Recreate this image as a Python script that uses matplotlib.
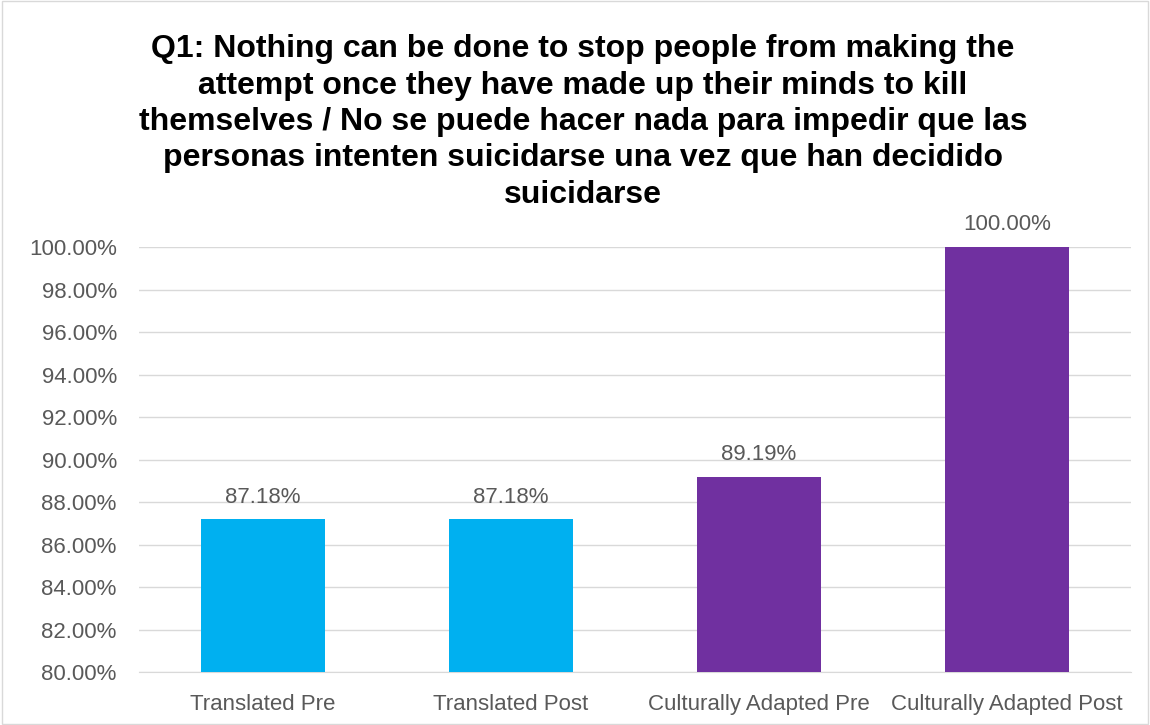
import matplotlib.pyplot as plt
from matplotlib.ticker import FuncFormatter
from matplotlib.patches import Rectangle

plt.rcParams['font.family'] = ['Liberation Sans', 'DejaVu Sans']

categories = ['Translated Pre', 'Translated Post', 'Culturally Adapted Pre', 'Culturally Adapted Post']
values = [87.18, 87.18, 89.19, 100.00]
colors = ['#00B0F0', '#00B0F0', '#7030A0', '#7030A0']
title = ('Q1: Nothing can be done to stop people from making the\n'
         'attempt once they have made up their minds to kill\n'
         'themselves / No se puede hacer nada para impedir que las\n'
         'personas intenten suicidarse una vez que han decidido\n'
         'suicidarse')

grey = '#595959'

fig = plt.figure(figsize=(11.5, 7.25), dpi=100)
ax = fig.add_axes([0.1209, 0.0731, 0.8626, 0.5862])

x = range(len(categories))
bars = ax.bar(x, values, width=0.5, color=colors, zorder=3)
for xi, v in zip(x, values):
    ax.text(xi, v + 0.55, f'{v:.2f}%', ha='center', va='bottom', fontsize=16, color=grey)

ax.set_ylim(80, 100)
ax.set_xlim(-0.5, 3.5)
ax.set_yticks(range(80, 101, 2))
ax.yaxis.set_major_formatter(FuncFormatter(lambda v, p: f'{v:.2f}%'))
ax.set_xticks(list(x))
ax.set_xticklabels(categories)
ax.tick_params(axis='both', length=0, labelsize=16, labelcolor=grey)
ax.tick_params(axis='y', pad=16)
ax.tick_params(axis='x', pad=16)
ax.grid(axis='y', color='#D9D9D9', linewidth=1, zorder=0)
for s in ['top', 'right', 'left']:
    ax.spines[s].set_visible(False)
ax.spines['bottom'].set_color('#D9D9D9')

fig.text(0.507, 0.953, title, ha='center', va='top', fontsize=23, fontweight='bold',
         linespacing=1.28)

fig.patches.append(Rectangle((0.002, 0.002), 0.996, 0.996, transform=fig.transFigure,
                             fill=False, edgecolor='#D9D9D9', linewidth=1))

fig.savefig('out.png', dpi=100)
